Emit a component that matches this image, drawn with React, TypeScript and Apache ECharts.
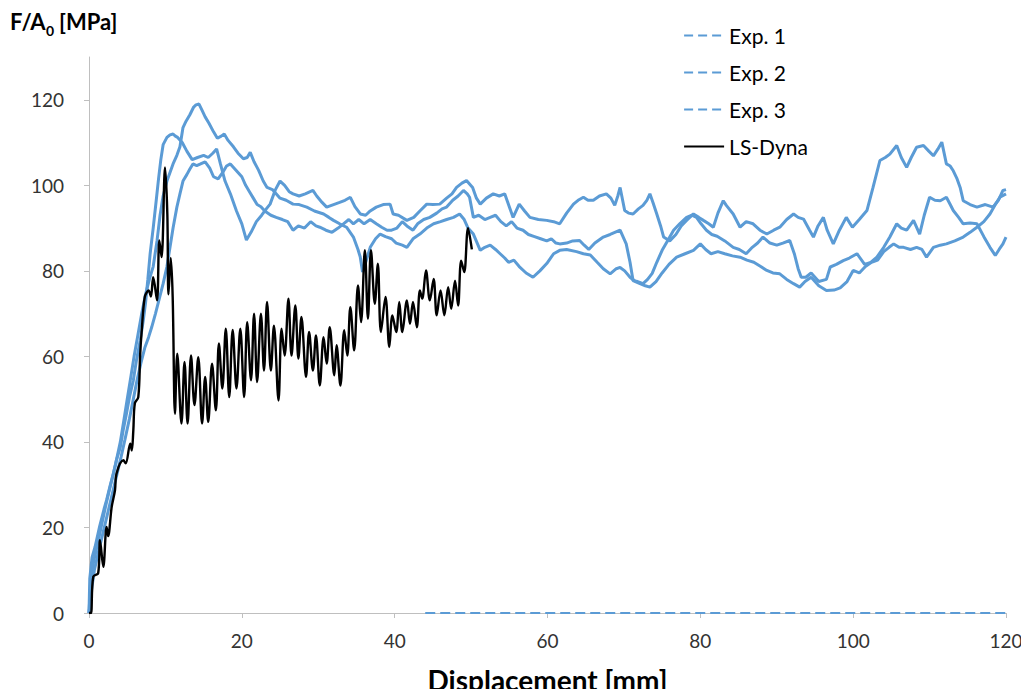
import React, { useEffect, useRef } from "react";
import * as echarts from "echarts";

const seriesNames = ["Exp. 1", "Exp. 2", "Exp. 3", "LS-Dyna"];
const yTickValues = [0, 20, 40, 60, 80, 100, 120];

const exp1: number[][] = [
  [0, 0], [0.1, 8], [0.4, 13], [0.8, 15.5], [1.4, 20.3], [2, 24.5], [2.3, 26.4], [2.8, 30], [3.2, 32.6], [3.6, 35.8],
  [4.1, 38.8], [4.5, 43], [4.9, 46.6], [5.3, 50.5], [5.8, 54.4], [6.2, 59], [6.7, 63.7], [7.1, 68.4], [7.4, 72.5],
  [7.7, 78], [8, 84], [8.4, 90], [8.8, 96.5], [9.1, 101.5], [9.4, 106], [9.7, 109.5], [10.2, 111.2], [10.6, 111.8],
  [11, 112], [11.3, 111.5], [11.6, 111.2], [12.2, 110], [12.8, 108], [13.5, 106], [14.2, 106.5], [15, 107],
  [15.6, 106.5], [16.2, 107.5], [16.7, 108.5], [17.2, 105], [17.8, 101], [18.5, 98], [19.3, 94], [20, 91],
  [20.6, 87.2], [21.2, 89], [21.9, 91.5], [22.6, 93], [23.2, 94.5], [23.7, 95.6], [24.4, 99], [25, 101],
  [25.6, 100], [26.2, 98.5], [26.7, 98], [27.5, 97.5], [28.3, 98], [29.3, 98.8], [29.8, 97.5], [30.5, 96],
  [31.1, 94.9], [32, 95.5], [32.8, 96], [33.5, 96.5], [34.2, 97.2], [34.8, 95], [35.5, 93.3], [36.2, 93],
  [36.8, 94], [37.6, 94.9], [38.5, 95.5], [39.4, 95.6], [39.8, 93.3], [40.5, 93], [41.6, 91.8], [42.5, 92.5],
  [43.3, 94], [44.2, 95.6], [45, 95.5], [45.9, 95.6], [46.8, 97], [47.5, 98], [48.1, 99.5], [48.8, 100.5],
  [49.4, 101.1], [50.2, 99.5], [50.7, 97], [51.2, 95.6], [52, 97], [52.9, 98], [53.7, 97.5], [54.4, 98],
  [55, 95], [55.5, 92.5], [56.3, 95.6], [57, 94], [57.7, 92.5], [58.8, 92], [59.9, 91.8], [60.8, 91.5],
  [61.6, 91], [62.5, 93.5], [63.4, 95.6], [64, 96.5], [64.7, 97.2], [65.3, 96.5], [66, 96.5], [66.8, 97.5],
  [67.7, 98], [68.3, 97], [68.8, 95.3], [69.2, 97.5], [69.5, 99.5], [70.1, 94.1], [70.6, 93.5], [71.2, 93.3],
  [71.9, 94.5], [72.5, 95.3], [73, 96.5], [73.4, 98], [73.8, 96], [74.3, 93.3], [74.8, 90.5], [75.2, 87.9],
  [76, 87], [76.8, 88.5], [77.5, 90.5], [78.2, 91.8], [79.1, 93.3], [79.8, 92.5], [80.4, 91.8], [81.1, 91],
  [81.7, 90.2], [82.3, 93.5], [83, 96.4], [83.4, 95.3], [84.3, 93.3], [85.2, 90.2], [86, 91.5], [86.9, 91],
  [87.8, 89.5], [88.7, 88.6], [89.6, 89.5], [90.4, 90.2], [91.3, 92], [92.2, 93.3], [92.8, 92.5], [93.5, 92.1],
  [94.3, 89.5], [94.8, 87.9], [95.4, 90.5], [96.1, 92.5], [96.6, 89.5], [97.4, 86.3], [98.2, 89.5], [99.1, 92.5],
  [99.9, 90.2], [100.8, 92], [101.8, 94.1], [102.6, 99.5], [103.5, 105.8], [104.2, 106.5], [104.8, 107.3],
  [105.7, 109.3], [106.3, 106.5], [107, 104.2], [107.6, 106.5], [108.3, 108.9], [109.2, 109.3], [109.9, 108],
  [110.5, 106.9], [111.1, 108.5], [111.6, 110.1], [112.2, 105], [112.7, 104.5], [113.1, 103.4], [113.6, 101.5],
  [114, 99.5], [114.4, 96.4], [115.3, 95.5], [116.2, 94.9], [117.3, 95.5], [118.3, 94.9], [119, 96.5],
  [119.6, 98.8], [120, 99]
];

const exp2: number[][] = [
  [0, 0], [0.2, 7], [0.6, 12], [1.1, 16], [1.7, 21], [2.3, 26], [2.9, 30.5], [3.5, 35], [4.1, 40], [4.6, 45.5],
  [5, 50], [5.5, 55.5], [5.9, 60], [6.4, 65], [6.9, 70], [7.4, 74.5], [7.9, 78], [8.4, 81], [8.9, 87], [9.3, 93],
  [9.7, 97.5], [10.2, 101], [10.6, 103], [11, 105], [11.5, 107], [11.9, 109], [12.3, 113.5], [12.7, 115],
  [13.2, 116.5], [13.7, 118.3], [14, 118.8], [14.4, 119], [14.8, 117.5], [15.2, 116], [15.7, 114.5], [16.3, 112.5],
  [16.8, 111], [17.3, 111.5], [17.7, 112], [18.2, 110.5], [18.9, 109], [19.5, 107.5], [20.2, 106.2], [20.7, 106.5],
  [21.1, 107.7], [21.6, 105.5], [22.2, 103.5], [22.8, 101], [23.3, 99.5], [24, 99], [25, 97], [25.8, 96.5],
  [26.7, 95.6], [27.5, 95.5], [28.5, 94.9], [29.5, 94], [30.7, 93.3], [31.4, 92.5], [32, 91.8], [32.8, 91],
  [33.7, 90.2], [34.6, 87.9], [35.2, 85], [35.5, 83.2], [35.8, 79.7], [36.3, 82.5], [36.8, 85.5], [37.5, 87.5],
  [38.1, 88.6], [38.8, 88], [39.6, 87.5], [40.2, 86.5], [41, 86], [41.6, 85.5], [42.4, 87.5], [43.3, 88.6],
  [44.2, 90], [45.1, 91], [46, 91.5], [46.8, 92], [47.7, 92.5], [48.5, 93.3], [49.1, 92], [49.6, 90], [50.3, 88.6],
  [50.8, 86.5], [51.2, 84.8], [51.8, 85.5], [52.5, 86], [53.2, 85], [53.8, 84], [54.4, 83], [54.9, 82],
  [55.6, 82.5], [56.3, 81], [57.2, 79.5], [58.1, 78.5], [59, 80], [59.9, 81.7], [60.8, 84], [61.6, 84.8],
  [62.5, 85], [63.8, 84.5], [64.7, 84], [65.6, 83.7], [66.5, 82], [67.3, 80.5], [68.2, 79.3], [69, 80.5],
  [69.5, 80.8], [70.1, 80], [70.8, 78.5], [71.5, 77.5], [72.1, 77], [72.8, 76.5], [73.4, 76.2], [74.2, 77.5],
  [75, 79.5], [75.9, 81.5], [76.9, 83.2], [78, 84], [79.1, 84.8], [80, 86.3], [80.7, 85], [81.4, 84],
  [82.3, 84.5], [83.2, 84], [84.2, 83.5], [85.2, 83.2], [86.1, 82.5], [87, 82], [87.9, 81], [88.7, 80.1],
  [89.5, 79.5], [90.4, 79.3], [91.3, 78], [92.2, 77], [93, 76.2], [93.7, 77.5], [94.5, 78.5], [95.5, 76.5],
  [96.5, 75.4], [97.5, 75.5], [98.3, 76], [99.2, 77.5], [100, 80.1], [100.8, 79.5], [101.6, 81], [102.4, 82],
  [103.2, 82.5], [104, 84.5], [104.7, 85.5], [105.3, 86.3], [106, 85.5], [106.6, 85.5], [107.5, 85],
  [108.3, 85.5], [109, 85], [109.6, 83.2], [110.5, 85.5], [111.4, 86], [112.2, 86.3], [113.3, 87], [114.4, 87.9],
  [115.3, 89], [116.2, 90.2], [117.1, 91.5], [117.9, 93.3], [118.6, 95.5], [119.2, 97.2], [120, 98]
];

const exp3: number[][] = [
  [0, 0], [0.3, 5], [0.7, 10], [1.2, 14], [1.8, 18.5], [2.4, 23], [3, 27.5], [3.6, 32], [4.2, 36.5], [4.7, 40.5],
  [5.3, 45.5], [5.8, 50], [6.3, 54.5], [6.8, 58.5], [7.3, 62], [7.8, 64.5], [8.2, 66.8], [8.7, 70], [9.2, 73.5],
  [9.7, 77], [10.2, 81], [10.6, 85.5], [11, 90], [11.5, 94.9], [11.9, 98], [12.3, 101], [12.8, 102.5],
  [13.2, 103.8], [13.6, 105], [14.1, 104.6], [14.6, 105], [15.2, 105.5], [15.8, 104], [16.3, 102], [16.9, 101.5],
  [17.5, 103], [18, 104.5], [18.5, 105], [19, 104], [19.5, 103], [20, 102], [20.5, 100], [21, 98.5], [21.5, 97],
  [22, 95.5], [22.5, 95], [23, 94], [23.8, 93], [24.5, 92.5], [25.3, 92], [26, 91.5], [26.7, 89.5], [27.4, 90.5],
  [28.2, 90], [29, 91.5], [29.7, 90.5], [30.2, 90.2], [31, 89.5], [31.8, 89], [32.6, 90], [33.3, 91], [34, 92],
  [34.6, 91], [35.3, 92], [36, 91], [36.8, 92], [37.6, 91], [38.3, 90.2], [39, 89.5], [39.6, 89.5], [40.3, 90],
  [41, 91.5], [41.6, 90.5], [42.4, 89.5], [43, 91], [43.8, 92], [44.6, 92.5], [45.5, 93.5], [46.2, 94.5],
  [46.8, 94.9], [47.6, 96.5], [48.3, 97.5], [49, 98.8], [49.5, 98], [49.8, 97.2], [50.3, 92.5], [51, 93],
  [51.8, 92], [52.5, 92.5], [53.2, 93], [53.9, 91.5], [54.6, 90.5], [55.3, 91.5], [56, 90], [56.8, 89.5],
  [57.5, 88.5], [58.3, 88], [59.1, 87.5], [59.9, 87], [60.5, 87.5], [61.1, 86.5], [61.6, 86.3], [62.5, 86.5],
  [63.3, 87], [64.2, 87.1], [64.8, 86], [65.4, 85], [66.2, 86.5], [67.3, 87.9], [68.2, 88.5], [69.5, 89.5],
  [70.3, 86.3], [70.8, 82], [71.2, 77.7], [71.8, 77.5], [72.5, 77], [73.1, 78], [73.7, 79.4], [74.3, 82],
  [75, 84.8], [75.7, 87], [76.5, 89.5], [77.3, 91], [78.2, 92.5], [78.9, 93], [79.5, 92.5], [80.1, 91],
  [80.8, 89.5], [81.5, 88.5], [82.2, 88.1], [83.2, 87], [84.3, 85.5], [85.1, 85], [86, 84], [86.8, 85.5],
  [87.5, 86.5], [88.2, 87.9], [89.1, 86.5], [90, 86], [90.8, 86.5], [91.7, 87.1], [92.3, 84], [92.8, 80.5],
  [93.2, 78.5], [93.8, 78.5], [94.5, 79.5], [95.5, 77.5], [96.5, 78], [97, 80.9], [97.8, 81.5], [98.7, 82.4],
  [99.5, 83], [100.5, 84], [101.5, 81.5], [102.3, 82], [103.1, 83.2], [104, 85.5], [104.8, 87.9], [105.7, 91],
  [106.3, 90], [107, 89.5], [107.9, 91.8], [108.7, 88.6], [109.3, 93], [110, 97.2], [110.7, 96.5], [111.4, 96.4],
  [112.2, 97.2], [112.7, 95.5], [113.1, 94.1], [113.8, 92.5], [114.4, 91], [115.3, 91.2], [116.2, 91],
  [117.1, 88], [117.9, 85.5], [118.6, 83.6], [119.1, 85], [119.6, 86.3], [120, 87.9]
];

const expZeroTail: number[][] = [[44, 0], [120, 0]];

const lsDyna: number[][] = [
  [0, 0], [0.25, 0], [0.56, 8.5], [1.2, 9.3], [1.44, 17], [1.87, 10.8], [2.3, 20.1], [2.5, 18], [2.97, 24.8],
  [3.4, 28.7], [3.6, 32.6], [4.5, 35.7], [4.8, 35], [5.4, 39.6], [5.6, 38], [5.8, 42.7], [6, 49], [6.45, 50.5],
  [6.7, 60.6], [6.9, 66], [7.3, 73.9], [7.8, 75.4], [8.1, 74], [8.4, 78.5], [8.9, 73.1], [9.2, 87.1], [9.5, 83.2],
  [9.95, 104.2], [10.25, 93.3], [10.4, 74.5], [10.7, 83], [10.95, 73.9], [11.25, 46.6], [11.55, 60.6], [12.1, 44.3],
  [12.5, 58.7], [12.9, 44.3], [13.35, 60.2], [13.8, 48.6], [14.3, 59.8], [14.8, 44.3], [15.2, 55.2], [15.6, 44.7],
  [16.1, 58.3], [16.6, 47.4], [17, 63], [17.45, 52.5], [17.9, 66.5], [18.35, 50.5], [18.8, 66.2], [19.3, 52.5],
  [19.8, 66.5], [20.3, 50.5], [20.7, 68], [21.2, 54.4], [21.6, 70], [22, 54], [22.5, 70], [22.9, 56.7],
  [23.3, 72.7], [23.8, 56.7], [24.2, 67.2], [24.8, 49.7], [25.2, 66.5], [25.6, 60.2], [26.1, 73.5], [26.5, 60.2],
  [27, 71.9], [27.4, 59.5], [27.8, 69.2], [28.4, 55.2], [28.8, 65.7], [29.3, 56.7], [29.7, 64.9], [30.2, 53.2],
  [30.7, 64.5], [31.1, 58.3], [31.5, 66.8], [32.1, 55.6], [32.4, 62.6], [32.9, 53.2], [33.4, 66.1], [33.8, 60.2],
  [34.2, 71.5], [34.7, 61.4], [35.2, 76.6], [35.6, 68], [36.1, 84.8], [36.5, 68.8], [36.9, 84.8], [37.4, 72.3],
  [37.8, 81.7], [38.2, 65.7], [38.8, 73.9], [39.3, 62.2], [39.7, 69.6], [40.2, 65.7], [40.6, 72.7], [41, 65.7],
  [41.6, 73.1], [42, 67.6], [42.4, 72.7], [42.9, 66.8], [43.3, 75.4], [43.6, 73.5], [44.1, 80.1], [44.6, 73.1],
  [45.1, 78.1], [45.5, 69.6], [46, 75.4], [46.5, 69.6], [47, 76.2], [47.4, 71.1], [47.9, 77.7], [48.3, 71.9],
  [48.7, 82.4], [49.1, 79.7], [49.6, 90], [50.1, 85]
];

const BLUE = "#5B9BD5";
const FONT = "Lato, 'Open Sans', sans-serif";

export default function App() {
  const ref = useRef<HTMLDivElement>(null);
  useEffect(() => {
    if (!ref.current) return;
    const chart = echarts.init(ref.current, null, { renderer: "svg" });
    const expLine = (name: string, data: number[][]) => ({
      name,
      type: "line",
      data,
      symbol: "none",
      showSymbol: false,
      lineStyle: { color: BLUE, width: 3 },
      itemStyle: { color: BLUE },
      z: 2,
    });
    const hidden = { color: "rgba(0,0,0,0)", opacity: 0, borderWidth: 0 };
    chart.setOption({
      animation: false,
      textStyle: { fontFamily: FONT },
      grid: { left: 89, right: 23, top: 57, bottom: 84, containLabel: false, outerBoundsMode: "none" },
      legend: {
        orient: "vertical",
        left: 678,
        top: 20,
        itemWidth: 40,
        itemHeight: 20,
        itemGap: 16,
        textStyle: { fontSize: 21, color: "#000", fontFamily: FONT, lineHeight: 20 },
        data: [
          { name: seriesNames[0], itemStyle: hidden, lineStyle: { type: [9, 5], width: 2.2, color: BLUE } },
          { name: seriesNames[1], itemStyle: hidden, lineStyle: { type: [9, 5], width: 2.2, color: BLUE } },
          { name: seriesNames[2], itemStyle: hidden, lineStyle: { type: [9, 5], width: 2.2, color: BLUE } },
          { name: seriesNames[3], itemStyle: hidden, lineStyle: { type: "solid", width: 2, color: "#000" } },
        ],
      },
      xAxis: {
        type: "value",
        min: 0,
        max: 120,
        interval: 20,
        name: "Displacement [mm]",
        nameLocation: "middle",
        nameGap: 53,
        nameTextStyle: { fontSize: 28, fontWeight: "bold", color: "#000", fontFamily: FONT },
        axisLine: { show: true, lineStyle: { color: "#BFBFBF", width: 1 } },
        axisTick: { show: true, length: 5, lineStyle: { color: "#BFBFBF" } },
        axisLabel: { fontSize: 19, color: "#333", margin: 18, fontFamily: FONT },
        splitLine: { show: false },
      },
      yAxis: {
        type: "value",
        min: 0,
        max: 130,
        axisLine: { show: true, lineStyle: { color: "#BFBFBF", width: 1 } },
        axisTick: { show: true, length: 5, lineStyle: { color: "#BFBFBF" }, customValues: yTickValues },
        axisLabel: { fontSize: 19, color: "#333", margin: 25, fontFamily: FONT, customValues: yTickValues },
        splitLine: { show: false },
      },
      graphic: [
        { type: "text", left: 10, top: 10, style: { text: "F/A", fontSize: 22, fontWeight: "bold", fill: "#000", fontFamily: FONT } },
        { type: "text", left: 46, top: 23, style: { text: "0", fontSize: 14, fontWeight: "bold", fill: "#000", fontFamily: FONT } },
        { type: "text", left: 59, top: 10, style: { text: "[MPa]", fontSize: 22, fontWeight: "bold", fill: "#000", fontFamily: FONT } },
      ],
      series: [
        expLine(seriesNames[0], exp1),
        expLine(seriesNames[1], exp2),
        expLine(seriesNames[2], exp3),
        {
          name: "",
          type: "line",
          data: expZeroTail,
          symbol: "none",
          lineStyle: { color: BLUE, width: 2, type: [10, 5] },
          z: 2,
        },
        {
          name: seriesNames[3],
          type: "line",
          data: lsDyna,
          symbol: "none",
          showSymbol: false,
          smooth: 0.35,
          lineStyle: { color: "#000", width: 2.4 },
          itemStyle: { color: "#000" },
          z: 3,
        },
      ],
    });
    return () => chart.dispose();
  }, []);
  return <div ref={ref} style={{ width: 1029, height: 697, margin: -8 }} />;
}
